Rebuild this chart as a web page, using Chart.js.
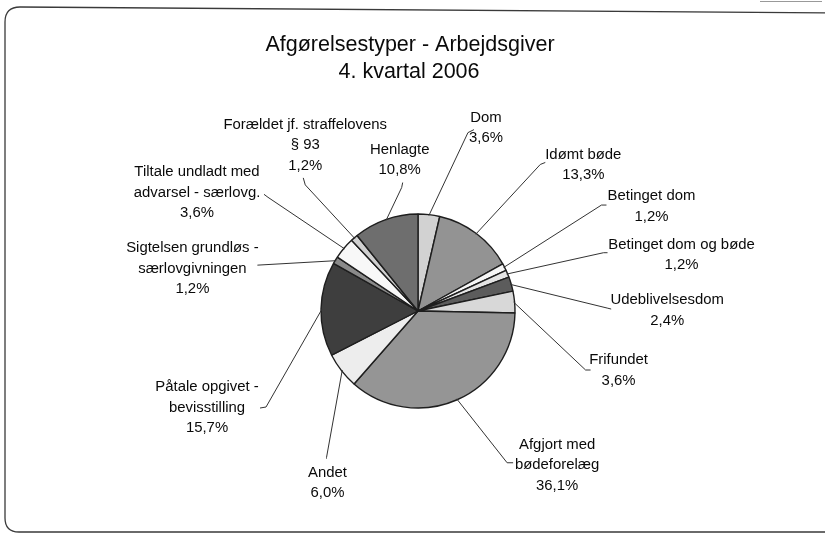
<!DOCTYPE html>
<html>
<head>
<meta charset="utf-8">
<script src="https://cdn.jsdelivr.net/npm/chart.js@4/dist/chart.umd.min.js"></script>
<style>
  html, body { margin: 0; padding: 0; background: #fff; }
  #wrap { width: 825px; height: 535px; position: relative; }
</style>
</head>
<body>
<div id="wrap"><canvas id="c"></canvas></div>
<script>
// ---- data ----
const titleLines = ['Afgørelsestyper - Arbejdsgiver', '4. kvartal 2006'];
const categories = [
  ['Dom'],
  ['Idømt bøde'],
  ['Betinget dom'],
  ['Betinget dom og bøde'],
  ['Udeblivelsesdom'],
  ['Frifundet'],
  ['Afgjort med', 'bødeforelæg'],
  ['Andet'],
  ['Påtale opgivet -', 'bevisstilling'],
  ['Sigtelsen grundløs -', 'særlovgivningen'],
  ['Tiltale undladt med', 'advarsel - særlovg.'],
  ['Forældet jf. straffelovens', '§ 93'],
  ['Henlagte']
];
const shares = [3.6, 13.3, 1.2, 1.2, 2.4, 3.6, 36.1, 6.0, 15.7, 1.2, 3.6, 1.2, 10.8];

// ---- styles ----
const sliceColors = ['#d2d2d2', '#939393', '#f6f6f6', '#e4e4e4', '#5c5c5c', '#d8d8d8',
                     '#959595', '#ededed', '#3e3e3e', '#8a8a8a', '#f8f8f8', '#d0d0d0', '#6e6e6e'];
// label layout: offsets relative to the slice's outer-edge midpoint
const labelLayout = [
  { text: [57, -97],   anchor: [39, -82],  hook: [45, -85] },
  { text: [107, -79],  anchor: [64, -69],  hook: [69, -71] },
  { text: [147, -71],  anchor: [97, -62],  hook: [102, -62] },
  { text: [174, -29],  anchor: [96, -21],  hook: [100, -21] },
  { text: [156, 16],   anchor: [96, 24],   hook: [100, 25] },
  { text: [104, 58],   anchor: [71, 68],   hook: [76, 68] },
  { text: [100, 45],   anchor: [50, 63],   hook: [56, 63] },
  { text: [-14, 102],  anchor: [-15, 87],  hook: [-15, 88] },
  { text: [-114, 78],  anchor: [-55, 98],  hook: [-61, 99] },
  { text: [-143, -12], anchor: [-78, 5],   hook: [-78, 5] },
  { text: [-147, -76], anchor: [-76, -51], hook: [-80, -54] },
  { text: [-49, -113], anchor: [-49, -53], hook: [-51, -60] },
  { text: [14, -70],   anchor: [16, -32],  hook: [17, -37] }
];
const FONT = '"Liberation Sans", Arial, Helvetica, sans-serif';

const framePlugin = {
  id: 'frame',
  beforeDraw(chart) {
    const ctx = chart.ctx;
    ctx.save();
    ctx.fillStyle = '#fff';
    ctx.fillRect(0, 0, chart.width, chart.height);
    ctx.strokeStyle = '#3a3a3a';
    ctx.lineWidth = 1.3;
    ctx.beginPath();
    ctx.moveTo(840, 13);
    ctx.lineTo(20, 7);
    ctx.quadraticCurveTo(5, 7, 5, 22);
    ctx.lineTo(5, 518);
    ctx.quadraticCurveTo(5, 532, 19, 532);
    ctx.lineTo(840, 532);
    ctx.stroke();
    ctx.strokeStyle = '#999';
    ctx.lineWidth = 1;
    ctx.beginPath();
    ctx.moveTo(760, 1.5);
    ctx.lineTo(822, 1.5);
    ctx.stroke();
    // title
    ctx.fillStyle = '#0a0a0a';
    ctx.font = '21.5px ' + FONT;
    ctx.textAlign = 'center';
    ctx.textBaseline = 'middle';
    ctx.fillText(titleLines[0], 410, 45);
    ctx.fillText(titleLines[1], 409, 72);
    ctx.restore();
  }
};

const labelPlugin = {
  id: 'pieLabels',
  afterDatasetsDraw(chart) {
    const ctx = chart.ctx;
    const meta = chart.getDatasetMeta(0);
    ctx.save();
    meta.data.forEach((arc, i) => {
      const p = arc.getProps(['x', 'y', 'startAngle', 'endAngle', 'outerRadius'], true);
      const mid = (p.startAngle + p.endAngle) / 2;
      const ex = p.x + Math.cos(mid) * p.outerRadius;
      const ey = p.y + Math.sin(mid) * p.outerRadius;
      const L = labelLayout[i];
      ctx.strokeStyle = '#333';
      ctx.lineWidth = 1;
      ctx.beginPath();
      ctx.moveTo(ex - Math.cos(mid) * 1, ey - Math.sin(mid) * 1);
      ctx.lineTo(ex + L.anchor[0], ey + L.anchor[1]);
      ctx.lineTo(ex + L.hook[0], ey + L.hook[1]);
      ctx.stroke();
      const lines = categories[i].concat([shares[i].toFixed(1).replace('.', ',') + '%']);
      ctx.fillStyle = '#0a0a0a';
      ctx.font = '14.9px ' + FONT;
      ctx.textAlign = 'center';
      ctx.textBaseline = 'middle';
      lines.forEach((t, k) => {
        ctx.fillText(t, ex + L.text[0], ey + L.text[1] + k * 20.5);
      });
    });
    ctx.restore();
  }
};

new Chart(document.getElementById('c'), {
  type: 'pie',
  data: {
    labels: categories.map(c => c.join(' ')),
    datasets: [{
      data: shares,
      backgroundColor: sliceColors,
      borderColor: '#1e1e1e',
      borderWidth: 1.4
    }]
  },
  options: {
    responsive: true,
    maintainAspectRatio: false,
    animation: false,
    events: [],
    radius: 97,
    layout: { padding: { left: 11, right: 0, top: 100, bottom: 13 } },
    plugins: {
      legend: { display: false },
      title: { display: false },
      tooltip: { enabled: false }
    }
  },
  plugins: [framePlugin, labelPlugin]
});
</script>
</body>
</html>
